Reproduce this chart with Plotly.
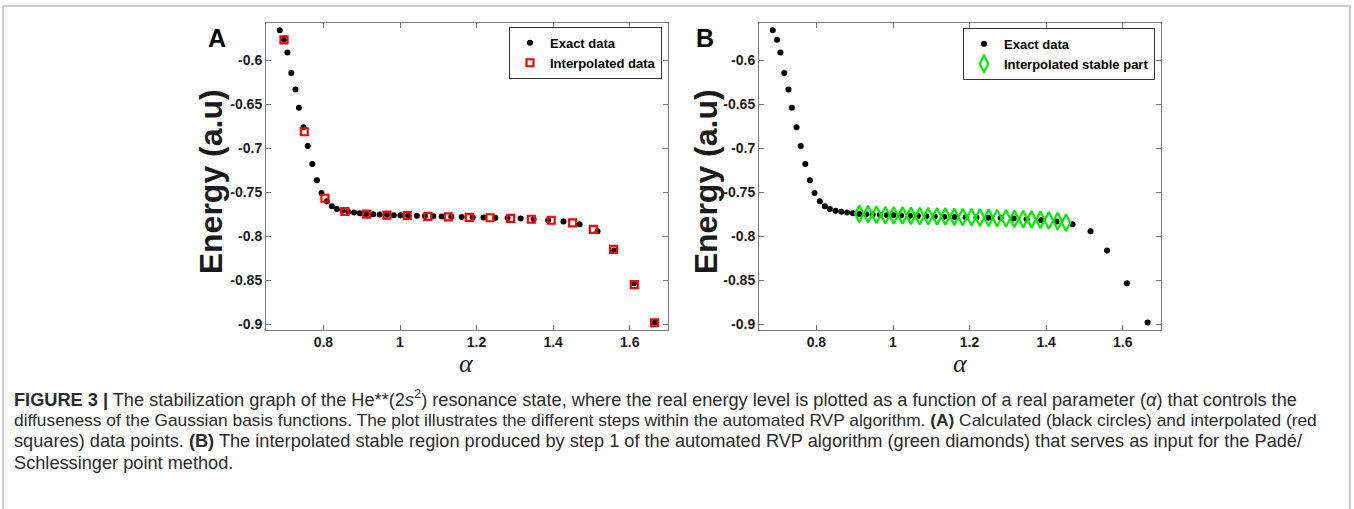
import plotly.graph_objects as go

# Exact (computed) energies E(alpha)
alpha_exact = [0.686, 0.697, 0.706, 0.716, 0.727, 0.736, 0.748, 0.759, 0.771, 0.783,
               0.795, 0.809, 0.822, 0.835, 0.850, 0.865, 0.880, 0.895, 0.912, 0.930,
               0.947, 0.966, 0.984, 1.001, 1.021, 1.044, 1.065, 1.087, 1.109, 1.134,
               1.161, 1.190, 1.218, 1.249, 1.281, 1.315, 1.349, 1.387, 1.427, 1.469,
               1.516, 1.559, 1.611, 1.665]
energy_exact = [-0.5656, -0.5765, -0.5909, -0.6143, -0.6329, -0.6539, -0.6759, -0.6974, -0.7178, -0.7363,
                -0.7507, -0.7600, -0.7659, -0.7690, -0.7710, -0.7722, -0.7729, -0.7737, -0.7746, -0.7750,
                -0.7753, -0.7756, -0.7759, -0.7761, -0.7763, -0.7766, -0.7769, -0.7771, -0.7774, -0.7777,
                -0.7779, -0.7782, -0.7785, -0.7788, -0.7792, -0.7797, -0.7805, -0.7816, -0.7832, -0.7863,
                -0.7942, -0.8160, -0.8535, -0.8980]

# Interpolated points (panel A)
alpha_interp = [0.697, 0.750, 0.804, 0.856, 0.913, 0.966, 1.019, 1.073, 1.126, 1.181,
                1.235, 1.289, 1.343, 1.395, 1.451, 1.505, 1.558, 1.612, 1.665]
energy_interp = [-0.5765, -0.6811, -0.7567, -0.7718, -0.7748, -0.7759, -0.7763, -0.7774, -0.7779, -0.7785,
                 -0.7789, -0.7795, -0.7806, -0.7817, -0.7847, -0.7921, -0.8148, -0.8549, -0.8983]

# Interpolated stable part (panel B)
alpha_stable = [0.912, 0.935, 0.957, 0.980, 1.002, 1.025, 1.047, 1.070, 1.092, 1.115,
                1.137, 1.160, 1.182, 1.205, 1.227, 1.250, 1.272, 1.295, 1.317, 1.340,
                1.362, 1.385, 1.407, 1.430, 1.452]
energy_stable = [-0.7744, -0.7748, -0.7756, -0.7759, -0.7763, -0.7763, -0.7767, -0.7771, -0.7771, -0.7774,
                 -0.7774, -0.7778, -0.7782, -0.7782, -0.7786, -0.7790, -0.7793, -0.7797, -0.7801, -0.7805,
                 -0.7808, -0.7812, -0.7820, -0.7827, -0.7845]

x_ticks = [0.8, 1.0, 1.2, 1.4, 1.6]
x_ticklabels = ["0.8", "1", "1.2", "1.4", "1.6"]
y_ticks = [-0.9, -0.85, -0.8, -0.75, -0.7, -0.65, -0.6]
y_ticklabels = ["-0.9", "-0.85", "-0.8", "-0.75", "-0.7", "-0.65", "-0.6"]

W, H = 1354, 509
SANS = "Liberation Sans"


def px(x):
    return x / W


def py(y):
    return 1 - y / H


fig = go.Figure()

fig.add_trace(go.Scatter(x=alpha_exact, y=energy_exact, mode="markers", name="Exact data",
                         marker=dict(color="black", size=6, symbol="circle"),
                         xaxis="x", yaxis="y", legend="legend"))
fig.add_trace(go.Scatter(x=alpha_interp, y=energy_interp, mode="markers", name="Interpolated data",
                         marker=dict(color="red", size=7, symbol="square-open", line=dict(color="red", width=2.2)),
                         xaxis="x", yaxis="y", legend="legend"))
fig.add_trace(go.Scatter(x=alpha_exact, y=energy_exact, mode="markers", name="Exact data",
                         marker=dict(color="black", size=6, symbol="circle"),
                         xaxis="x2", yaxis="y2", legend="legend2"))
fig.add_trace(go.Scatter(x=alpha_stable, y=energy_stable, mode="markers", name="Interpolated stable part",
                         marker=dict(color="#00ee00", size=12, symbol="diamond-tall-open",
                                     line=dict(color="#00ee00", width=2.2)),
                         xaxis="x2", yaxis="y2", legend="legend2"))

axis_common = dict(showgrid=False, zeroline=False, showline=True, linecolor="#7a7a7a", linewidth=1,
                   mirror="ticks", ticks="inside", ticklen=5, tickcolor="#7a7a7a",
                   tickfont=dict(family=SANS, size=14, color="#1a1a1a", weight="bold"))

xr = [0.65, 1.70]
yr = [-0.9062, -0.5573]
ydom = [py(331), py(23)]

legend_font = dict(family=SANS, size=13, color="black", weight="bold")
fig.update_layout(
    width=W, height=H, margin=dict(l=0, r=0, t=0, b=0),
    paper_bgcolor="white", plot_bgcolor="white",
    xaxis=dict(domain=[px(266), px(668)], range=xr, tickvals=x_ticks, ticktext=x_ticklabels,
               anchor="y", **axis_common),
    yaxis=dict(domain=ydom, range=yr, tickvals=y_ticks, ticktext=y_ticklabels, anchor="x", **axis_common),
    xaxis2=dict(domain=[px(759), px(1161)], range=xr, tickvals=x_ticks, ticktext=x_ticklabels,
                anchor="y2", **axis_common),
    yaxis2=dict(domain=ydom, range=yr, tickvals=y_ticks, ticktext=y_ticklabels, anchor="x2", **axis_common),
    legend=dict(x=px(662), y=py(27), xanchor="right", yanchor="top", bgcolor="white",
                bordercolor="#333", borderwidth=1, tracegroupgap=0, itemwidth=30,
                font=legend_font),
    legend2=dict(x=px(1155), y=py(28), xanchor="right", yanchor="top", bgcolor="white",
                 bordercolor="#333", borderwidth=1, tracegroupgap=0, itemwidth=30,
                 font=legend_font),
)

annotations = []
# panel letters
for letter, xpos in (("A", 217), ("B", 705)):
    annotations.append(dict(text=letter, x=px(xpos), y=py(38), xref="paper", yref="paper",
                            showarrow=False, xanchor="center", yanchor="middle",
                            font=dict(family=SANS, size=25, color="black", weight="bold")))
# y-axis titles
for xpos in (211, 706):
    annotations.append(dict(text="Energy (a.u)", x=px(xpos), y=py(183), xref="paper", yref="paper",
                            showarrow=False, textangle=-90, xanchor="center", yanchor="middle",
                            font=dict(family=SANS, size=32, color="#1a1a1a", weight="bold")))
# x-axis titles
for xpos in (467, 960):
    annotations.append(dict(text="α", x=px(xpos), y=py(365), xref="paper", yref="paper",
                            showarrow=False, xanchor="center", yanchor="middle",
                            font=dict(family="Liberation Serif", size=26, color="#1a1a1a", style="italic")))

# caption lines (text, font size) - sizes set so each line fills the column width
caption = [
    ("<b>FIGURE 3 |</b> The stabilization graph of the He**(2<i>s</i><sup>2</sup>) resonance state, where the real energy level "
     "is plotted as a function of a real parameter (<i>α</i>) that controls the", 18.2),
    ("diffuseness of the Gaussian basis functions. The plot illustrates the different steps within the automated RVP "
     "algorithm. <b>(A)</b> Calculated (black circles) and interpolated (red", 17.35),
    ("squares) data points. <b>(B)</b> The interpolated stable region produced by step 1 of the automated RVP algorithm "
     "(green diamonds) that serves as input for the Padé/", 18.2),
    ("Schlessinger point method.", 18.2),
]
for i, (line, size) in enumerate(caption):
    annotations.append(dict(text=line, x=px(12), y=py(400 + 21.6 * i), xref="paper", yref="paper",
                            showarrow=False, xanchor="left", yanchor="middle", align="left",
                            font=dict(family=SANS, size=size, color="#2a2a2a")))

fig.update_layout(annotations=annotations)

# outer frame of the figure
fig.add_shape(type="rect", xref="paper", yref="paper", x0=px(3), x1=px(1350), y0=-0.05, y1=py(6),
              line=dict(color="#9a9a9a", width=1), fillcolor="rgba(0,0,0,0)", layer="below")

fig.write_html("out.html")
